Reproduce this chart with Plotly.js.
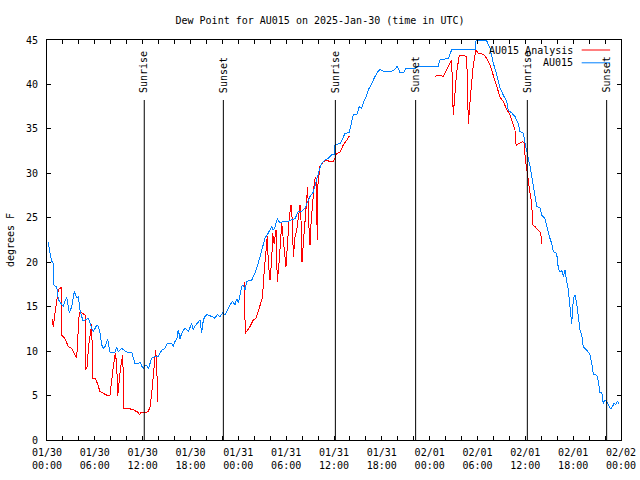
<!DOCTYPE html>
<html>
<head>
<meta charset="utf-8">
<script src="https://cdn.plot.ly/plotly-3.0.1.min.js"></script>
<style>html,body{margin:0;padding:0;background:#fff;}#chart{width:640px;height:480px;}
#chart path.js-line{shape-rendering:crispEdges;}</style>
</head>
<body>
<div id="chart"></div>
<script>
// Hours since 2025-01-30 00:00 UTC, dew point in degrees F
const obsHours = [0.16,0.29,0.59,0.79,0.88,1.22,1.42,1.84,2.04,2.26,2.47,2.80,3.10,3.42,3.73,3.93,4.14,4.48,4.77,5.18,5.39,5.61,5.81,6.23,6.43,6.65,6.86,7.06,7.28,7.61,7.90,8.53,8.74,8.94,9.37,10.00,10.62,11.04,11.45,11.67,11.88,12.08,12.29,12.51,12.71,13.13,13.55,13.96,14.39,14.80,15.01,15.64,15.84,16.06,16.27,16.47,16.68,16.90,17.31,17.73,18.15,18.35,18.56,18.98,19.19,19.40,19.61,19.82,20.03,20.66,21.07,21.36,21.70,22.04,22.33,22.62,22.95,23.29,23.58,23.80,24.00,24.21,24.42,24.62,24.84,25.05,25.46,25.68,26.09,26.50,26.93,27.34,27.76,28.19,28.39,28.60,28.89,29.23,29.64,30.27,30.69,31.11,31.52,31.95,32.36,32.78,32.99,33.40,33.62,33.90,34.16,34.46,34.87,35.28,35.71,36.00,36.13,36.84,37.38,37.92,38.22,38.42,38.85,39.17,39.47,39.67,40.10,40.30,40.73,41.14,41.56,41.77,42.18,43.24,43.65,43.94,44.28,44.69,45.03,46.16,46.37,49.05,49.30,50.34,50.76,53.69,53.81,55.15,55.57,55.98,56.41,56.82,57.24,57.66,57.86,58.29,58.70,59.12,59.33,59.75,59.96,60.17,60.37,60.59,60.80,61.00,61.21,61.42,61.84,62.05,62.47,62.68,63.01,63.31,63.51,63.93,64.14,64.35,64.56,64.76,64.98,65.19,65.39,65.60,65.82,66.02,66.23,66.44,66.64,66.86,67.07,67.27,67.70,67.90,68.11,68.33,68.53,68.95,69.15,69.37,69.58,69.78,69.99,70.20,70.62,70.83,71.12,71.37,71.54,71.79];
const obsDew = [22.3,21.4,20.1,19.9,17.4,17.2,15.8,15.2,15.0,15.6,16.1,14.3,15.0,16.7,16.0,16.1,14.6,13.5,13.5,13.7,13.1,12.6,12.2,12.9,12.8,12.0,10.7,10.3,10.5,11.3,9.9,9.9,10.5,9.9,10.3,9.9,9.9,8.6,8.6,8.8,8.3,8.1,8.4,8.4,8.0,9.2,9.4,9.4,10.1,10.3,10.8,10.9,10.5,11.1,11.3,12.4,11.4,12.0,12.6,12.2,13.1,12.4,12.8,13.3,13.5,12.0,13.5,13.9,14.1,13.9,13.7,14.1,13.9,14.3,14.1,14.6,15.2,15.6,15.2,15.9,15.4,16.3,17.3,17.4,16.9,17.8,18.0,18.0,18.8,19.9,21.4,22.7,23.3,24.0,23.6,24.0,24.9,24.4,24.6,24.6,24.8,24.9,25.7,25.7,26.1,27.0,27.4,27.9,28.7,29.4,30.4,31.1,31.5,31.7,32.1,32.1,33.2,33.4,34.5,34.6,36.0,36.6,36.6,37.5,37.3,37.9,38.8,39.4,40.1,40.9,41.5,41.7,41.5,41.5,41.7,42.1,41.3,41.3,41.8,41.8,42.0,42.0,42.8,42.9,43.9,43.9,44.9,44.9,44.1,42.4,41.1,39.6,38.8,38.1,37.1,36.8,36.4,35.6,34.7,34.5,33.4,32.3,31.7,30.8,29.6,28.5,27.0,26.3,26.1,25.3,24.9,24.0,22.9,22.1,21.2,21.0,19.3,18.9,19.1,18.4,19.1,17.8,16.9,15.0,13.1,15.9,16.3,15.4,14.1,12.4,11.8,10.5,10.1,9.8,9.6,8.6,7.4,7.3,6.6,5.3,5.4,4.1,4.5,4.3,3.6,3.6,4.1,4.0,4.4,4.0];

const anaHours = [0.66,0.79,0.92,1.13,1.42,1.63,1.76,1.84,2.26,2.67,3.10,3.42,3.73,3.80,4.05,4.35,4.77,4.85,5.06,5.18,5.39,5.61,5.73,6.02,6.31,6.65,7.06,7.49,7.90,8.12,8.32,8.57,8.74,8.87,9.07,9.24,9.50,9.66,10.20,10.83,11.45,11.58,11.75,12.29,12.71,12.92,13.13,13.33,13.46,13.63,13.76,13.89,
  20.0,
  24.75,24.87,25.46,25.88,26.22,26.50,26.81,26.93,27.06,27.13,27.26,27.47,27.63,27.76,27.97,28.19,28.31,28.48,28.73,28.89,29.14,29.44,29.64,29.77,29.98,30.19,30.39,30.61,30.77,30.90,31.11,31.32,31.52,31.74,31.86,31.99,32.15,32.36,32.53,32.70,32.83,32.99,33.12,33.33,33.49,33.62,33.74,33.91,33.95,34.24,34.66,35.08,35.50,35.91,36.13,36.34,36.75,37.17,37.59,37.92,
  42.0,
  48.67,49.08,49.71,50.13,50.46,50.76,50.96,51.18,51.39,51.72,52.22,52.65,52.85,53.06,53.27,53.47,53.81,54.10,54.73,55.15,55.57,55.98,56.41,56.82,57.24,57.66,58.07,58.49,58.70,58.79,58.91,59.33,59.67,59.87,60.00,60.17,60.30,60.46,60.59,60.80,60.87,60.92,61.21,61.63,61.84,61.97,62.05];
const anaDew = [13.6,12.75,13.7,15.0,16.9,17.05,17.2,11.8,11.4,10.5,10.3,9.75,9.2,10.5,14.4,14.3,14.05,7.9,8.25,10.3,11.8,13.1,6.95,6.95,6.4,5.45,5.25,5.05,5.05,7.1,8.25,9.75,8.6,4.9,7.1,8.25,9.55,3.55,3.55,3.4,3.1,2.8,3.1,3.1,3.2,3.75,5.25,7.1,8.6,10.1,8.6,4.3,
  null,
  17.8,12.0,12.75,13.5,13.7,14.4,15.4,15.75,16.1,17.8,19.1,21.4,22.9,19.9,18.0,20.25,23.25,22.1,23.6,17.8,20.25,24.4,22.9,21.4,19.5,22.9,25.1,26.4,24.75,20.6,22.9,23.6,25.3,26.4,24.75,20.05,22.1,24.75,26.25,28.5,24.4,21.9,24.4,27.4,28.5,29.4,29.6,22.5,28.5,30.75,31.3,31.5,31.3,31.3,31.8,32.2,32.4,33.2,33.7,34.2,
  null,
  40.9,41.05,40.9,41.6,42.2,42.75,36.55,39.6,41.45,43.25,43.3,43.1,35.6,38.05,40.7,42.2,43.9,43.5,43.4,42.95,42.2,41.05,39.9,38.6,38.05,37.2,36.6,35.45,34.9,33.4,33.2,33.4,33.55,33.4,31.5,30.6,29.6,28.5,27.75,26.6,25.7,24.2,24.0,23.6,23.4,22.9,22.1];

const sunHours = [12.20, 22.12, 36.17, 46.24, 60.25, 70.20];
const sunLabels = ["Sunrise", "Sunset", "Sunrise", "Sunset", "Sunrise", "Sunset"];

const tickHours = [0,6,12,18,24,30,36,42,48,54,60,66,72];
const tickLabels = ["01/30<br>00:00","01/30<br>06:00","01/30<br>12:00","01/30<br>18:00","01/31<br>00:00","01/31<br>06:00","01/31<br>12:00","01/31<br>18:00","02/01<br>00:00","02/01<br>06:00","02/01<br>12:00","02/01<br>18:00","02/02<br>00:00"];
const yTicks = [0,5,10,15,20,25,30,35,40,45];

const BASE = Date.UTC(2025, 0, 30, 0, 0, 0);
function stamp(h) {
  return new Date(BASE + Math.round(h * 3600000)).toISOString().replace('T', ' ').slice(0, 19);
}

const FONT = "DejaVu Sans Mono, Liberation Mono, monospace";

const traces = [
  {x: anaHours.map(stamp), y: anaDew, mode: 'lines', name: 'AU015 Analysis',
   line: {color: '#ff0000', width: 1}, connectgaps: false, hoverinfo: 'skip'},
  {x: obsHours.map(stamp), y: obsDew, mode: 'lines', name: 'AU015',
   line: {color: '#0080ff', width: 1}, hoverinfo: 'skip'}
];

const shapes = sunHours.map(h => ({
  type: 'line', xref: 'x', yref: 'y', x0: stamp(h), x1: stamp(h), y0: 0, y1: 38.25,
  line: {color: '#000', width: 1}
}));
const annotations = sunHours.map((h, i) => ({
  x: stamp(h), y: 38.95, xref: 'x', yref: 'y', text: sunLabels[i], textangle: -90,
  showarrow: false, xanchor: 'center', yanchor: 'bottom', borderpad: 0,
  font: {family: FONT, size: 10, color: '#000'}
}));

// legend (gnuplot style: text then line sample)
const legendNames = ['AU015 Analysis', 'AU015'];
const legendColors = ['#ff0000', '#0080ff'];
const legendY = [0.975, 0.943];
legendNames.forEach((n, i) => {
  annotations.push({x: 0.918, y: legendY[i], xref: 'paper', yref: 'paper', text: n,
    showarrow: false, xanchor: 'right', yanchor: 'middle', borderpad: 0,
    font: {family: FONT, size: 10, color: '#000'}});
  shapes.push({type: 'line', xref: 'paper', yref: 'paper', x0: 0.9315, x1: 0.981,
    y0: legendY[i], y1: legendY[i], line: {color: legendColors[i], width: 1}});
});

const layout = {
  width: 640, height: 480,
  margin: {l: 47, r: 19, t: 40, b: 40, pad: 0},
  paper_bgcolor: '#fff', plot_bgcolor: '#fff',
  showlegend: false,
  font: {family: FONT, size: 10, color: '#000'},
  title: {text: 'Dew Point for AU015 on 2025-Jan-30 (time in UTC)', x: 0.5, xanchor: 'center',
          y: 1 - 20/480, yanchor: 'middle', font: {family: FONT, size: 10, color: '#000'}},
  xaxis: {
    type: 'date', range: [stamp(0), stamp(72)],
    tickmode: 'array', tickvals: tickHours.map(stamp), ticktext: tickLabels,
    ticks: 'inside', ticklen: 4, tickwidth: 1, tickcolor: '#000',
    minor: {dtick: 2 * 3600000, tick0: stamp(0), ticks: 'inside', ticklen: 4, tickwidth: 1, tickcolor: '#000', showgrid: false},
    showline: true, linecolor: '#000', linewidth: 1, mirror: 'allticks',
    showgrid: false, zeroline: false, tickangle: 0, ticklabelstandoff: 3,
    tickfont: {family: FONT, size: 10, color: '#000'}
  },
  yaxis: {
    range: [0, 45], tickmode: 'array', tickvals: yTicks,
    ticks: 'inside', ticklen: 4, tickwidth: 1, tickcolor: '#000',
    showline: true, linecolor: '#000', linewidth: 1, mirror: 'allticks',
    showgrid: false, zeroline: false, ticklabelstandoff: 6,
    tickfont: {family: FONT, size: 10, color: '#000'},
    title: {text: 'degrees F', standoff: 9, font: {family: FONT, size: 10, color: '#000'}}
  },
  shapes: shapes,
  annotations: annotations
};

Plotly.newPlot('chart', traces, layout, {staticPlot: true, displayModeBar: false});
</script>
</body>
</html>
